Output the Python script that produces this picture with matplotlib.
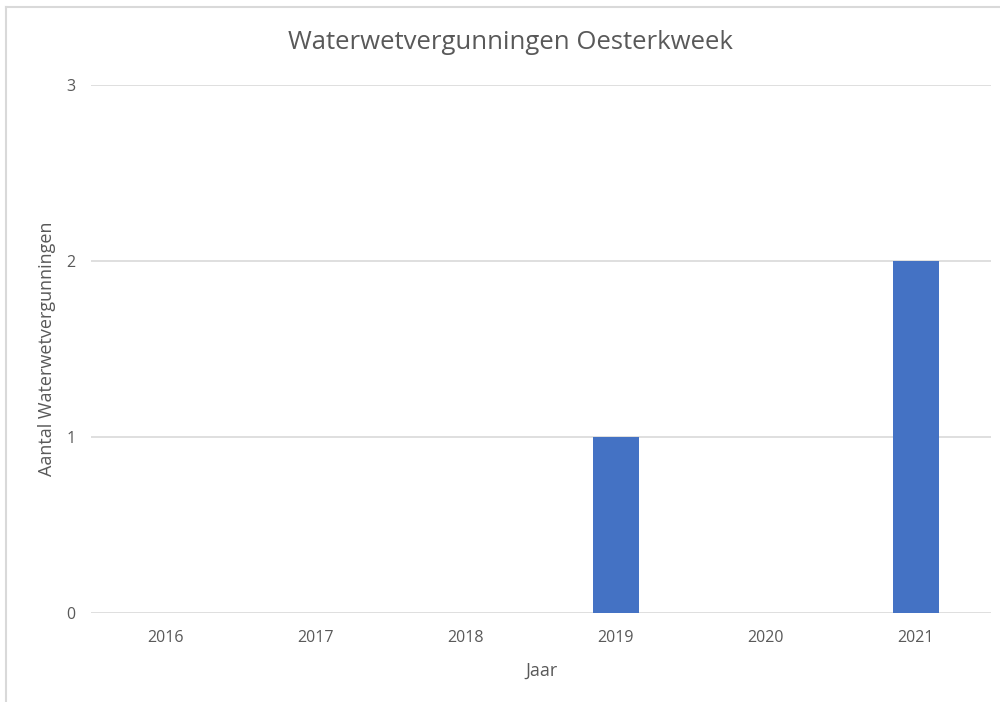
"""Waterwetvergunningen Oesterkweek"""
import matplotlib
matplotlib.use("Agg")
from matplotlib import pyplot as plt
from matplotlib.lines import Line2D

# Data.
years = ['2016', '2017', '2018', '2019', '2020', '2021']
permits = [0, 0, 0, 1, 0, 2]
y_ticks = [0, 1, 2, 3]

text_color = '#595959'
grid_color = '#d9d9d9'
bar_color = '#4472c4'

plt.rcParams['font.family'] = ['Open Sans', 'DejaVu Sans']

fig = plt.figure(figsize=(10, 7.02), dpi=100)
ax = fig.add_axes([0.091, 0.1268, 0.9, 0.7521])

ax.bar(years, permits, width=0.31, color=bar_color, zorder=3)

ax.set_ylim(0, 3)
ax.set_xlim(-0.5, len(years) - 0.5)
ax.set_yticks(y_ticks)
ax.yaxis.grid(True, color=grid_color, linewidth=1.2)
ax.set_axisbelow(True)
for side in ['top', 'right', 'left', 'bottom']:
    ax.spines[side].set_visible(False)
ax.tick_params(axis='both', length=0, labelsize=11.5, colors=text_color)
ax.tick_params(axis='x', pad=12)
ax.tick_params(axis='y', pad=11)

# Format plot.
fig.text(0.51, 0.94, "Waterwetvergunningen Oesterkweek", ha='center', va='center',
         fontsize=18.5, color=text_color)
ax.set_xlabel('Jaar', fontsize=13, color=text_color)
ax.xaxis.set_label_coords(0.5, -0.092)
ax.set_ylabel('Aantal Waterwetvergunningen', fontsize=13, color=text_color)
ax.yaxis.set_label_coords(-0.039, 0.5)

# Light chart border (left and top edges only, the rest is cropped off).
fig.add_artist(Line2D([0.0055, 0.0055], [0, 0.99], transform=fig.transFigure,
                      color='#d9d9d9', linewidth=1.5))
fig.add_artist(Line2D([0.0055, 1.0], [0.99, 0.99], transform=fig.transFigure,
                      color='#d9d9d9', linewidth=1.5))

fig.savefig('out.png', dpi=100)
